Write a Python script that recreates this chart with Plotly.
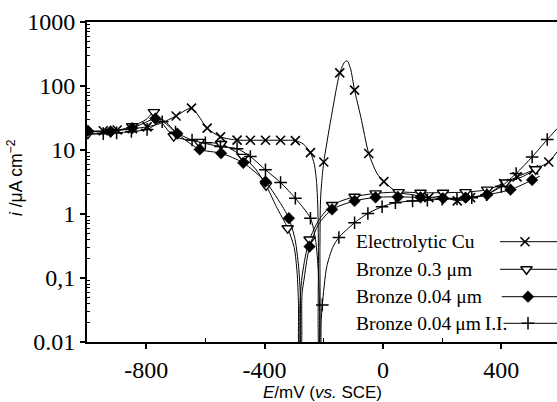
import plotly.graph_objects as go

# ---------------- data (E in mV vs SCE, i in uA cm^-2) ----------------
cu_E = [-1000, -945, -920, -898, -847, -797, -752, -699, -647, -594, -549, -493, -448, -397, -346, -296,
        -270, -245, -232, -224, -220, -218, -216.5, -215, -213, -211, -205, -200, -175, -146, -130, -121,
        -110, -96, -75, -48, -20, 3, 48, 100, 155, 200, 251, 296, 350, 408, 453, 509, 560, 589]
cu_i = [19, 20, 20, 20.5, 21.5, 23, 26, 34, 45, 22, 16, 14.3, 14.2, 14.2, 14.2, 14,
        12.5, 9.1, 6, 3, 1.2, 0.3, 0.008, 0.008, 0.3, 1.66, 4, 6.5, 32, 160, 235, 247,
        190, 86, 33, 8.8, 4.3, 3.2, 2.2, 2.0, 1.8, 1.9, 1.6, 1.8, 2.0, 3.0, 3.8, 4.9, 6.5, 9.5]
cu_mE = [-945, -898, -847, -797, -699, -647, -594, -549, -493, -448, -397, -346, -296, -245,
         -200, -146, -96, -48, 3, 155, 251, 296, 408, 453, 509, 560]
cu_mi = [20, 20.5, 21.5, 23, 34, 45, 22, 16, 14.3, 14.2, 14.2, 14.2, 14, 9.1,
         6.5, 160, 86, 8.8, 3.2, 1.8, 1.6, 1.8, 3.0, 3.8, 4.9, 6.5]

b03_E = [-1000, -920, -847, -800, -774, -750, -707, -622, -547, -472, -430, -395, -360, -322, -300,
         -290, -285.5, -284, -282.5, -280.5, -274, -262, -248, -217, -172, -96, -25, 53, 127, 203,
         279, 352, 414, 470, 516, 532]
b03_i = [18, 19.2, 23.5, 30, 39, 28, 16.5, 13.4, 12.4, 7.8, 5, 2.8, 1.3, 0.6, 0.3,
         0.12, 0.04, 0.008, 0.008, 0.04, 0.1, 0.22, 0.4, 0.8, 1.38, 1.86, 2.1, 2.2, 2.15, 2.15,
         2.2, 2.4, 3.1, 3.8, 5.0, 5.8]
b03_mE = [-997, -920, -847, -774, -707, -622, -547, -472, -395, -322, -248, -172, -96, -25, 53, 127,
          203, 279, 352, 414, 516]
b03_mi = [18, 19.2, 23.5, 39, 16.5, 13.4, 12.4, 7.8, 2.8, 0.6, 0.4, 1.38, 1.86, 2.1, 2.2, 2.15,
          2.15, 2.2, 2.4, 3.1, 5.0]

b004_E = [-1000, -920, -847, -769, -740, -695, -619, -547, -472, -397, -355, -318, -297, -285,
          -279, -277.5, -276, -274.5, -273, -266, -258, -248, -217, -172, -96, -25, 50, 127, 203,
          279, 352, 431, 504, 530]
b004_i = [20, 19.5, 22, 31, 29, 18, 10.2, 8.9, 6.3, 3.2, 1.7, 0.86, 0.4, 0.15,
          0.05, 0.008, 0.008, 0.04, 0.06, 0.1, 0.18, 0.31, 0.7, 1.18, 1.6, 1.82, 1.85, 1.82, 1.76,
          1.8, 2.0, 2.4, 3.4, 3.9]
b004_mE = [-997, -920, -847, -769, -695, -619, -547, -472, -397, -318, -248, -172, -96, -25, 50,
           127, 203, 279, 352, 431, 504]
b004_mi = [20, 19.5, 22, 31, 18, 10.2, 8.9, 6.3, 3.2, 0.86, 0.31, 1.18, 1.6, 1.82, 1.85,
           1.82, 1.76, 1.8, 2.0, 2.4, 3.4]

ii_E = [-1000, -900, -797, -746, -701, -645, -549, -493, -448, -397, -346, -296, -245, -228, -218,
        -214, -212.5, -211, -209, -205, -190, -170, -149, -96, -51, -3, 42, 100, 150, 200, 250,
        300, 350, 400, 450, 504, 555, 589]
ii_i = [17.5, 18.5, 21, 27.6, 19, 14.3, 11.3, 10.5, 7.9, 4.9, 3.1, 1.76, 0.86, 0.4, 0.12,
        0.03, 0.008, 0.008, 0.02, 0.038, 0.15, 0.3, 0.43, 0.73, 1.02, 1.3, 1.5, 1.6, 1.65, 1.7, 1.72,
        1.8, 2.0, 2.7, 4.3, 7.8, 14.6, 21.7]
ii_mE = [-945, -900, -850, -797, -746, -701, -645, -600, -549, -493, -448, -397, -346, -296, -245,
         -205, -149, -96, -51, -3, 42, 100, 150, 200, 250, 300, 350, 400, 450, 504, 555]
ii_mi = [18, 18.5, 19.5, 21, 27.6, 19, 14.3, 13, 11.3, 10.5, 7.9, 4.9, 3.1, 1.76, 0.86,
         0.038, 0.43, 0.73, 1.02, 1.3, 1.5, 1.6, 1.65, 1.7, 1.72, 1.8, 2.0, 2.7, 4.3, 7.8, 14.6]

series_names = ["Electrolytic Cu", "Bronze 0.3 \u03bcm", "Bronze 0.04 \u03bcm",
                "Bronze 0.04\u2009\u03bcm\u2009I.I."]

y_tickvals = [0.01, 0.1, 1, 10, 100, 1000]
y_ticktext = ["0.01", "0,1", "1", "10", "100", "1000"]
x_tickvals = [-800, -400, 0, 400]
x_ticktext = ["-800", "-400", "0", "400"]

# ---------------- styling ----------------
W, H = 557, 402
ML, MR, MT, MB = 87, 0, 22, 60
serif = "Liberation Serif, Times New Roman, serif"
sans = "Liberation Sans, Arial, sans-serif"

styles = [
    dict(symbol="x-thin", size=9, line=dict(width=1.6, color="black"), color="black"),
    dict(symbol="triangle-down", size=10, line=dict(width=1.4, color="black"), color="white"),
    dict(symbol="diamond", size=9, line=dict(width=0.5, color="black"), color="black"),
    dict(symbol="cross-thin", size=9, line=dict(width=1.5, color="black"), color="black"),
]

fig = go.Figure()
curves = [(cu_E, cu_i, cu_mE, cu_mi), (b03_E, b03_i, b03_mE, b03_mi),
          (b004_E, b004_i, b004_mE, b004_mi), (ii_E, ii_i, ii_mE, ii_mi)]
for (E, i, mE, mi), st, name in zip(curves, styles, series_names):
    fig.add_trace(go.Scatter(x=E, y=i, mode="lines", name=name, showlegend=False,
                             line=dict(color="black", width=1, shape="spline", smoothing=0.7),
                             hoverinfo="skip"))
    fig.add_trace(go.Scatter(x=mE, y=mi, mode="markers", name=name, showlegend=False,
                             marker=st, cliponaxis=True))

# custom legend (symbol drawn to the right of the text, as in the original)
def px2paper_x(px):
    return (px - ML) / (W - ML - MR)

def px2paper_y(py):
    return 1 - (py - MT) / (H - MT - MB)

leg_rows = [241.7, 269.3, 296.7, 323.3]
leg_line_start = [500, 500, 501.7, 503.5]
leg_marker_x = [525, 526.5, 528, 528]
for k, (name, st) in enumerate(zip(series_names, styles)):
    yy = px2paper_y(leg_rows[k])
    fig.add_trace(go.Scatter(x=[px2paper_x(leg_line_start[k]), px2paper_x(557)], y=[yy, yy],
                             mode="lines", xaxis="x2", yaxis="y2", showlegend=False,
                             line=dict(color="black", width=1), hoverinfo="skip"))
    fig.add_trace(go.Scatter(x=[px2paper_x(leg_marker_x[k])], y=[yy], mode="markers",
                             xaxis="x2", yaxis="y2", showlegend=False, marker=st, hoverinfo="skip"))
    fig.add_annotation(x=px2paper_x(354), y=yy, xref="paper", yref="paper", text=name,
                       showarrow=False, xanchor="left", yanchor="middle",
                       font=dict(family=serif, size=19.5, color="black"))

# axis titles
fig.add_annotation(x=0.5, y=px2paper_y(392), xref="paper", yref="paper",
                   text="<i>E</i>/mV (<i>vs.</i> SCE)", showarrow=False,
                   xanchor="center", yanchor="middle",
                   font=dict(family=sans, size=17, color="black"))
fig.add_annotation(x=px2paper_x(15), y=px2paper_y(178), xref="paper", yref="paper",
                   text="<i>i</i> /\u03bcA cm<sup>\u22122</sup>", showarrow=False, textangle=-90,
                   xanchor="center", yanchor="middle",
                   font=dict(family=sans, size=17.5, color="black"))

minor_y = [m * 10 ** d for d in range(-2, 3) for m in range(2, 10)]

fig.update_layout(
    width=W, height=H,
    margin=dict(l=ML, r=MR, t=MT, b=MB),
    paper_bgcolor="white", plot_bgcolor="white",
    showlegend=False,
    xaxis=dict(range=[-1000, 588], tickmode="array", tickvals=x_tickvals, ticktext=x_ticktext,
               ticks="outside", ticklen=5, tickwidth=1.5, tickcolor="black",
               showline=True, linewidth=2, linecolor="black", mirror=True,
               showgrid=False, zeroline=False,
               tickfont=dict(family=serif, size=24, color="black"),
               minor=dict(tickmode="array", tickvals=[-600, -200, 200], ticks="inside",
                          ticklen=4, tickwidth=1, tickcolor="black", showgrid=False)),
    yaxis=dict(type="log", range=[-2, 3], tickmode="array", tickvals=y_tickvals, ticktext=y_ticktext,
               ticks="outside", ticklen=5, tickwidth=1.5, tickcolor="black",
               showline=True, linewidth=2, linecolor="black", mirror=False,
               showgrid=False, zeroline=False,
               tickfont=dict(family=serif, size=24, color="black"),
               minor=dict(tickmode="array", tickvals=minor_y, ticks="inside",
                          ticklen=3, tickwidth=1, tickcolor="black", showgrid=False)),
    xaxis2=dict(range=[0, 1], overlaying="x", visible=False, fixedrange=True),
    yaxis2=dict(range=[0, 1], overlaying="y", visible=False, fixedrange=True),
)

fig.write_html("out.html")
